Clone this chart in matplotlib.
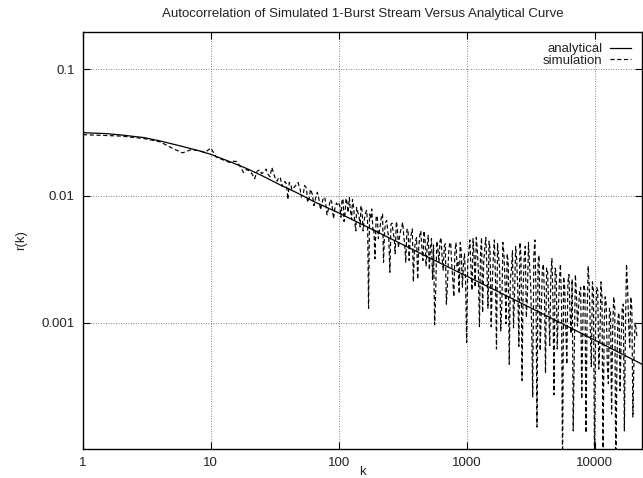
import matplotlib
matplotlib.use("Agg")
import matplotlib.pyplot as plt
import numpy as np

plt.rcParams['font.family'] = ['Liberation Sans', 'DejaVu Sans']

title = "Autocorrelation of Simulated 1-Burst Stream Versus Analytical Curve"
xlabel = "k"
ylabel = "r(k)"
series_names = ["analytical", "simulation"]

xticks = [1, 10, 100, 1000, 10000]
xticklabels = ["1", "10", "100", "1000", "10000"]
yticks = [0.001, 0.01, 0.1]
yticklabels = ["0.001", "0.01", "0.1"]

# analytical curve
k_ana = [1, 1.5, 2, 3, 4, 6, 8, 10, 14, 19, 25, 35, 50, 63, 100, 200, 500,
         1000, 2000, 5000, 10000, 24000, 30000]
r_ana = [0.0316, 0.0311, 0.0303, 0.0289, 0.0272, 0.0246, 0.0228, 0.0213,
         0.0187, 0.0165, 0.0145, 0.0122, 0.0103, 0.0091, 0.00735, 0.0052,
         0.00329, 0.00233, 0.00165, 0.00104, 0.00073, 0.000465, 0.000416]

# simulation, k and r written row by row in parallel
k_sim = [
    1, 2, 3, 4, 5, 6, 7, 8, 9, 10,
    11, 12, 13, 14, 15, 16, 17, 18, 19, 20,
    21, 22, 23, 24, 25, 26, 27, 28, 29, 30,
    31, 32, 33, 34, 35, 36, 37, 38, 39, 40,
    41, 42, 43, 45, 46, 48, 50, 51, 53, 54,
    56, 57, 59, 60, 62, 64, 66, 68, 70, 72,
    74, 76, 78, 81, 84, 86, 88, 91, 93, 96,
    98,
    100, 102, 104, 106, 108, 110, 112, 114, 116, 118,
    121, 123, 126, 128, 131, 133, 136, 138, 141, 144,
    147, 149, 152, 155, 158, 161, 165, 168, 171, 174,
    178, 181, 185, 188, 192, 196, 200, 204, 208, 212,
    216, 220, 224, 228, 233, 237, 242, 246, 251, 256,
    261, 266, 271, 276, 282, 287, 293, 298, 304, 310,
    316, 322, 328, 334, 341, 348, 355, 362, 369, 376,
    383, 390, 398, 406, 414, 422, 430, 438, 447, 455,
    464, 473, 482, 491, 501, 511, 521, 531, 541, 551,
    562, 573, 584, 595, 607, 619, 631, 643, 656, 668,
    681, 694, 708, 722, 736, 750, 764, 779, 794, 809,
    825, 841, 857, 874, 891, 908, 926, 944, 962, 981,
    1000, 1020, 1039, 1060, 1080, 1101, 1122, 1144, 1166, 1189,
    1212, 1235, 1259, 1283, 1308, 1333, 1359, 1386, 1413, 1440,
    1468, 1496, 1525, 1555, 1585, 1616, 1647, 1679, 1711, 1744,
    1778, 1813, 1848, 1884, 1920, 1957, 1995, 2034, 2073, 2113,
    2154, 2196, 2239, 2282, 2326, 2371, 2417, 2464, 2512, 2561,
    2610, 2661, 2712, 2765, 2818, 2873, 2929, 2985, 3043, 3102,
    3162, 3224, 3286, 3350, 3415, 3481, 3548, 3617, 3687, 3758,
    3831, 3905, 3981, 4058, 4137, 4217, 4299, 4382, 4467, 4553,
    4642, 4732, 4823, 4917, 5012, 5109, 5208, 5309, 5412, 5517,
    5623, 5732, 5843, 5957, 6072, 6190, 6310, 6432, 6556, 6683,
    6813, 6945, 7079, 7217, 7356, 7499, 7644, 7793, 7943, 8098,
    8254, 8414, 8577, 8743, 8913, 9085, 9261, 9441, 9624, 9810,
    10000, 10194, 10391, 10593, 10798, 11007, 11220, 11438, 11659, 11885,
    12115, 12350, 12589, 12834, 13082, 13336, 13594, 13858, 14125, 14400,
    14678, 14963, 15252, 15549, 15849, 16157, 16469, 16789, 17113, 17446,
    17783, 18129, 18478, 18838, 19201, 19575, 19953, 20341, 20734, 21136,
    21544]
r_sim = [
    0.0305, 0.0297, 0.0284, 0.0268, 0.0238, 0.0219, 0.0232, 0.0228, 0.0221, 0.0239,
    0.0203, 0.0196, 0.0190, 0.0184, 0.0188, 0.0187, 0.0170, 0.0153, 0.0162, 0.0158,
    0.0149, 0.0137, 0.0157, 0.0161, 0.0150, 0.0155, 0.0163, 0.0148, 0.0142, 0.0168,
    0.0150, 0.0136, 0.0131, 0.0141, 0.0138, 0.0119, 0.0127, 0.0130, 0.0124, 0.0094,
    0.0128, 0.0125, 0.0112, 0.0118, 0.0121, 0.0128, 0.0112, 0.0098, 0.0106, 0.0121,
    0.0115, 0.0089, 0.0098, 0.0113, 0.0104, 0.0084, 0.0097, 0.0107, 0.0094, 0.0078,
    0.0088, 0.0098, 0.0096, 0.0071, 0.0083, 0.0094, 0.0090, 0.0066, 0.0079, 0.0088,
    0.0085,
    0.0088, 0.0083, 0.0068, 0.0093, 0.0095, 0.0063, 0.0073, 0.0096, 0.0089, 0.0074,
    0.0097, 0.0079, 0.0065, 0.0094, 0.0080, 0.0064, 0.0053, 0.0081, 0.0074, 0.0070,
    0.0057, 0.0084, 0.0077, 0.0053, 0.0064, 0.0072, 0.0077, 0.0062, 0.0013, 0.0072,
    0.0066, 0.0079, 0.0054, 0.0056, 0.0032, 0.0068, 0.0070, 0.0046, 0.0053, 0.0060,
    0.0070, 0.0072, 0.0030, 0.0053, 0.0062, 0.0064, 0.0052, 0.0047, 0.0025, 0.0060,
    0.0061, 0.0052, 0.0047, 0.0035, 0.0063, 0.0056, 0.0039, 0.0047, 0.0053, 0.0056,
    0.0062, 0.0049, 0.0041, 0.0030, 0.0054, 0.0055, 0.0031, 0.0046, 0.0050, 0.0055,
    0.0021, 0.0037, 0.0044, 0.0047, 0.0022, 0.0039, 0.0049, 0.0053, 0.0038, 0.0031,
    0.0053, 0.0045, 0.0028, 0.0040, 0.0049, 0.0026, 0.0039, 0.0046, 0.0022, 0.0041,
    0.00096, 0.0018, 0.0044, 0.0039, 0.0030, 0.0044, 0.0047, 0.0032, 0.0026, 0.0040,
    0.0042, 0.0014, 0.0020, 0.0035, 0.0042, 0.0043, 0.0029, 0.0022, 0.0016, 0.0036,
    0.0043, 0.0028, 0.0030, 0.0017, 0.0043, 0.0036, 0.0019, 0.0029, 0.0035, 0.0021,
    0.0007, 0.0030, 0.0036, 0.0045, 0.0027, 0.0018, 0.0046, 0.0033, 0.0019, 0.0047,
    0.0038, 0.0025, 0.00093, 0.0035, 0.0047, 0.0012, 0.0030, 0.0039, 0.0047, 0.0027,
    0.0013, 0.0044, 0.0038, 0.00093, 0.0020, 0.0033, 0.0045, 0.0023, 0.00062, 0.0042,
    0.0033, 0.0026, 0.00086, 0.0014, 0.0043, 0.0035, 0.0021, 0.00098, 0.0035, 0.0030,
    0.00047, 0.0022, 0.0026, 0.0037, 0.00091, 0.0017, 0.0040, 0.0031, 0.0018, 0.00065,
    0.0043, 0.0033, 0.00035, 0.0019, 0.0033, 0.0040, 0.0011, 0.0016, 0.0043, 0.0029,
    0.0021, 0.0009, 0.00026, 0.0033, 0.0045, 0.0019, 0.00015, 0.0031, 0.0034, 0.0006,
    0.0012, 0.0026, 0.0029, 0.0017, 0.0004, 0.0027, 0.0025, 0.0013, 0.00066, 0.0024,
    0.0032, 0.0015, 0.00027, 0.0027, 0.0025, 0.00062, 0.0012, 0.0021, 0.0029, 0.0015,
    0.00007, 0.0023, 0.0019, 0.00095, 0.00047, 0.0021, 0.0024, 0.0012, 0.00082, 0.0022,
    0.00014, 0.00062, 0.0024, 0.0017, 0.00094, 0.0013, 0.0018, 0.0019, 0.00025, 0.00097,
    0.0020, 0.0018, 0.000135, 0.0011, 0.0028, 0.0020, 0.00091, 0.00045, 0.0021, 0.0018,
    0.00007, 0.00095, 0.0019, 0.0018, 0.00043, 0.0007, 0.0021, 0.0016, 0.00008, 0.00094,
    0.0016, 0.0014, 0.00046, 0.00033, 0.0013, 0.0012, 0.00019, 0.00087, 0.0016, 0.0013,
    0.000055, 0.00048, 0.0011, 0.0012, 0.00029, 0.00075, 0.0013, 0.0014, 0.00014, 0.00088,
    0.0029, 0.0019, 0.00097, 0.00064, 0.0016, 0.0013, 0.00018, 0.00051, 0.0010, 0.0009,
    0.00075]

fig = plt.figure(figsize=(6.43, 4.78), dpi=100)
ax = fig.add_axes([83/643, 1 - 449/478, (643 - 83)/643 - 0.0008, (449 - 32)/478])

ax.plot(k_ana, r_ana, color='black', lw=0.9, label=series_names[0], zorder=3)
ax.plot(k_sim, r_sim, color='black', lw=0.85, dashes=(3.5, 2.2),
        label=series_names[1], zorder=2)

ax.set_xscale('log')
ax.set_yscale('log')
ax.set_xlim(1, 23714)
ax.set_ylim(1.007e-4, 0.197)

ax.set_xticks(xticks)
ax.set_xticklabels(xticklabels)
ax.set_yticks(yticks)
ax.set_yticklabels(yticklabels)
ax.minorticks_off()
ax.tick_params(which='major', direction='in', length=5, width=0.8,
               top=True, right=True, labelsize=9.5, colors='black', pad=6)
for lab in ax.get_xticklabels() + ax.get_yticklabels():
    lab.set_color('#222222')

ax.grid(True, which='major', linestyle=(0, (1, 2)), color='#555555', lw=0.6)
for s in ax.spines.values():
    s.set_linewidth(1.0)

ax.set_title(title, fontsize=9.5, pad=11, color='#222222')
ax.set_xlabel(xlabel, fontsize=9.5, labelpad=-2.5, color='#222222')
ax.set_ylabel(ylabel, fontsize=9.5, labelpad=10, color='#222222')

leg = ax.legend(loc='upper right', frameon=False, markerfirst=False,
                fontsize=9.5, handlelength=1.6, handletextpad=0.6,
                labelspacing=-0.05, borderaxespad=0.55, borderpad=0.3)
for t in leg.get_texts():
    t.set_ha('right')
    t.set_color('#222222')

fig.savefig('out.png', dpi=100)
